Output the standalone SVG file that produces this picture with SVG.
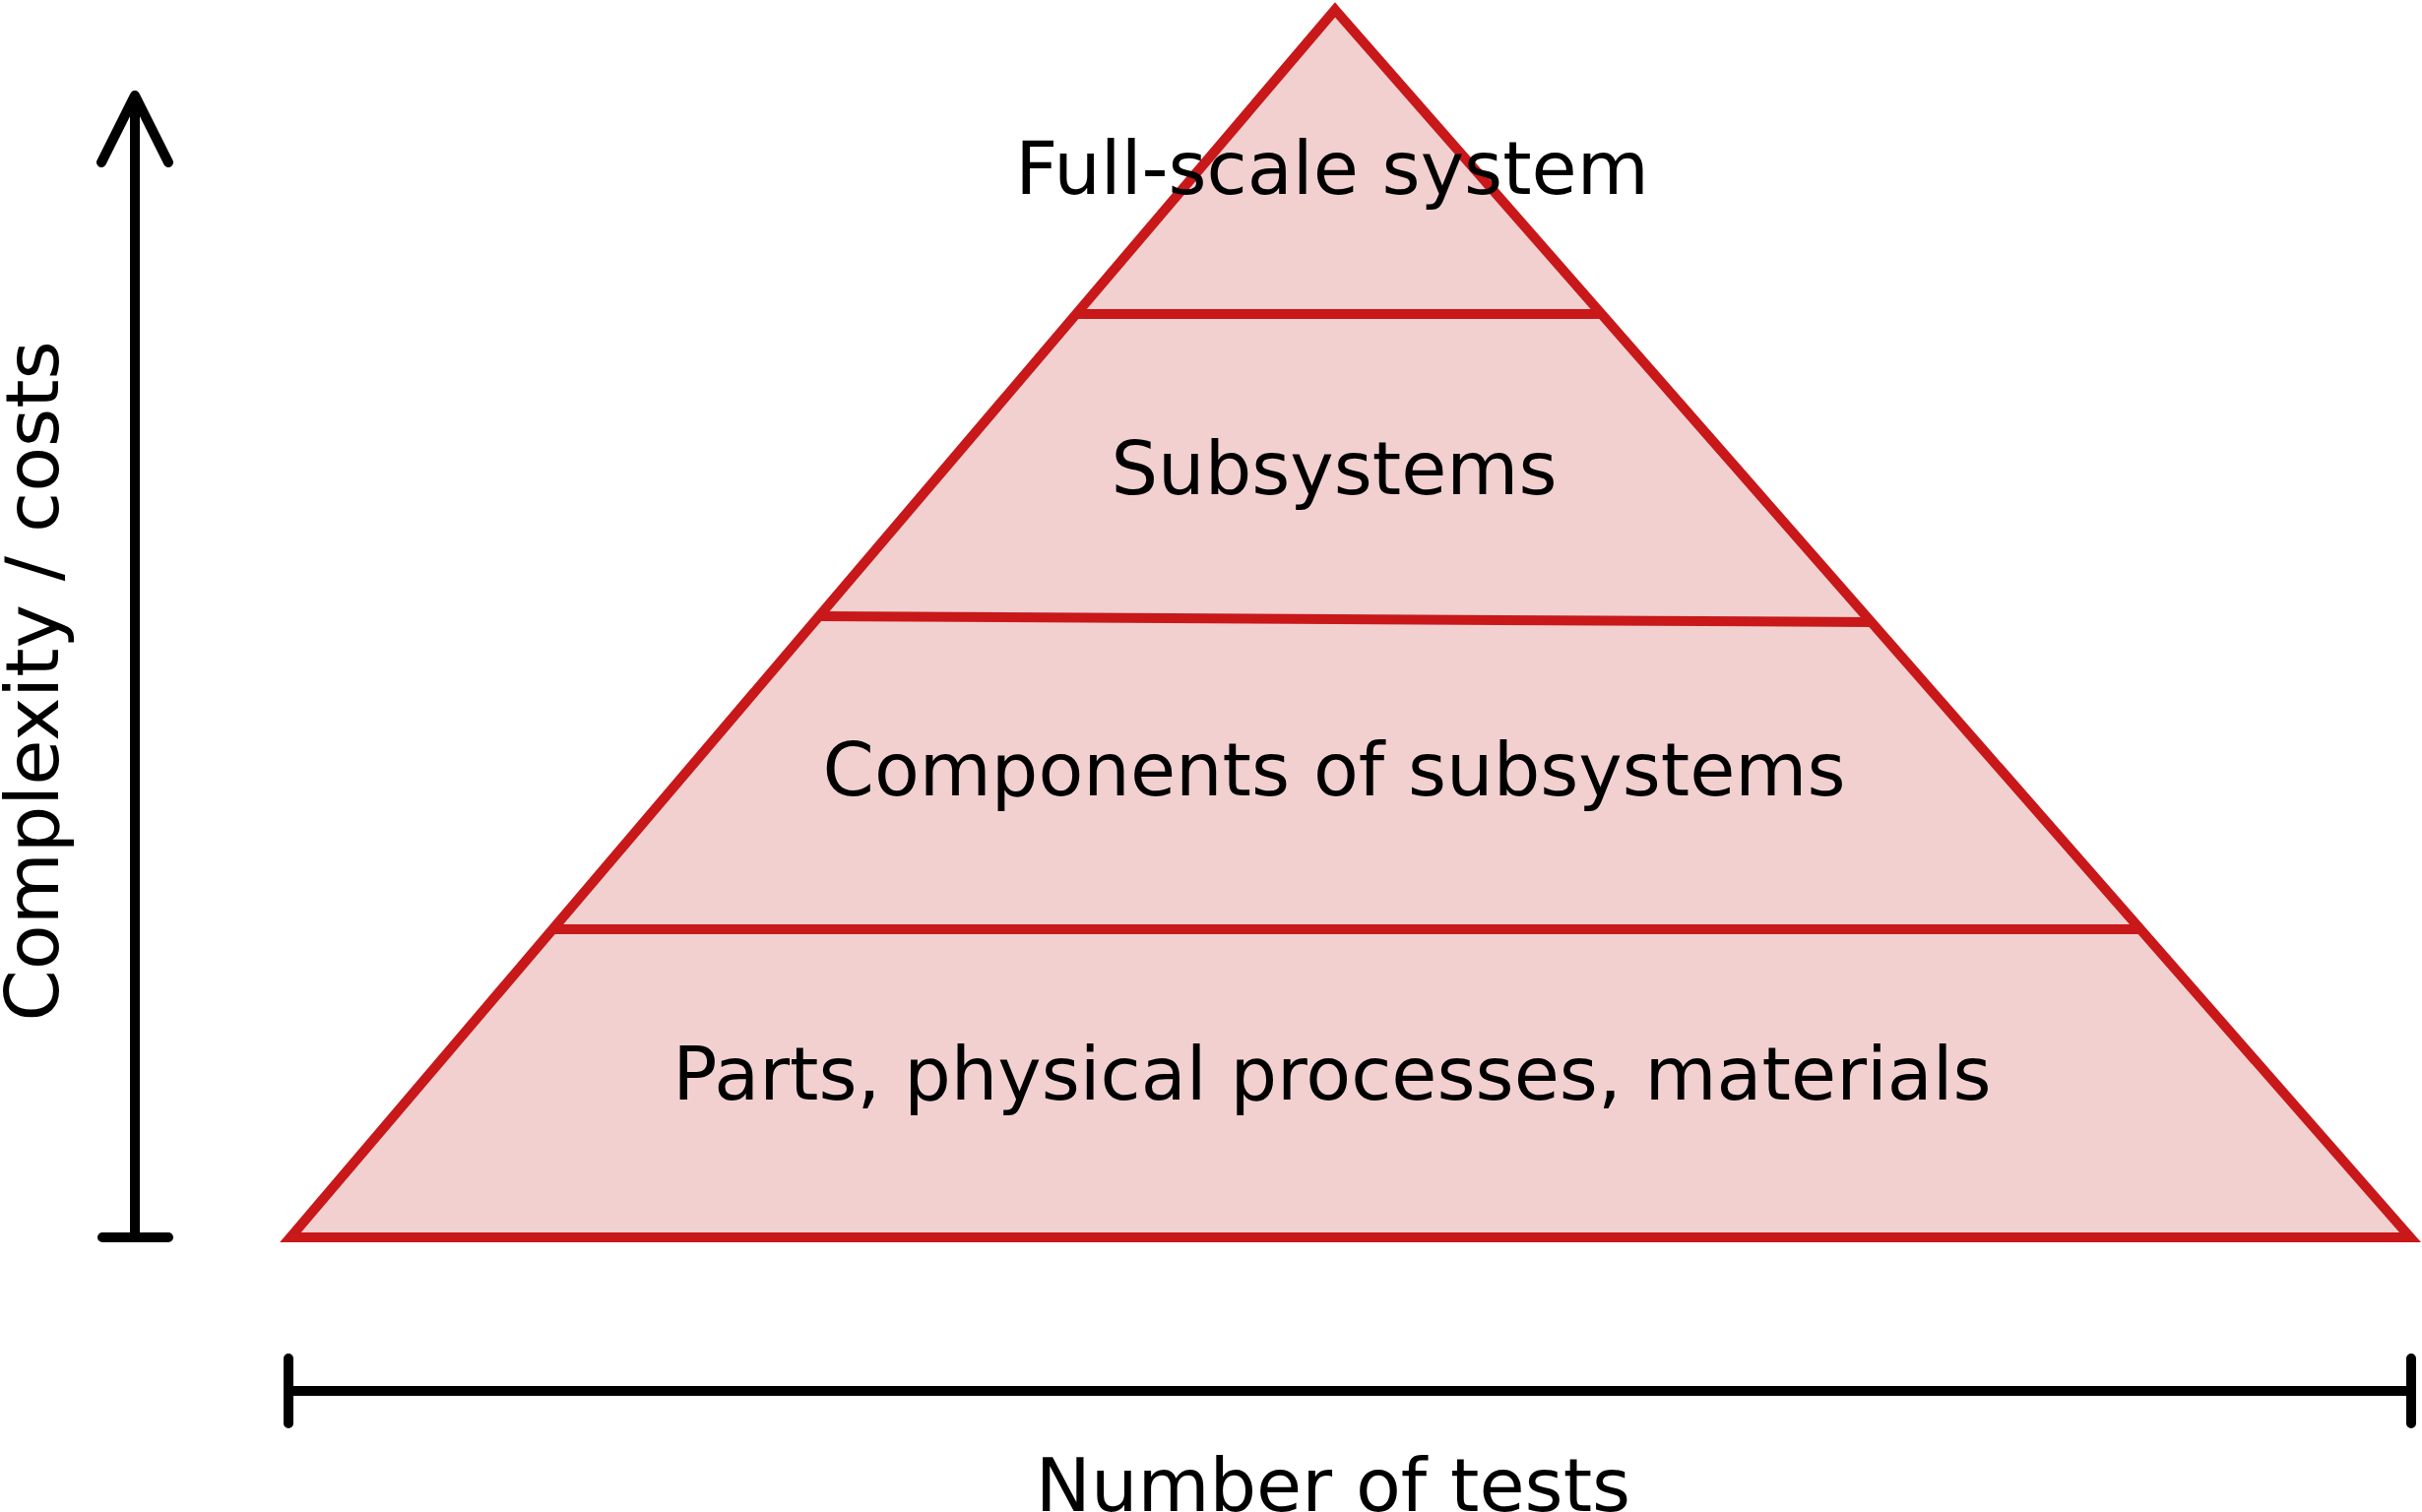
<svg xmlns="http://www.w3.org/2000/svg" width="2460" height="1536" viewBox="0 0 2460 1536">
  <style>
    .lbl { font-family: "DejaVu Sans", Verdana, sans-serif; font-size: 75px; fill: #000; text-anchor: middle; }
    .tier { fill: none; stroke: #c8181a; stroke-width: 10; }
    .axis { fill: none; stroke: #000; stroke-width: 10; stroke-linecap: round; stroke-linejoin: round; }
  </style>
  <rect width="2460" height="1536" fill="#ffffff"/>
  <g id="pyramid">
    <polygon points="1356,10 2448,1257 295,1257" fill="#f2d0d0" stroke="#c8181a" stroke-width="10" stroke-linejoin="miter" stroke-miterlimit="10"/>
  </g>
  <g id="connectors">
    <line class="tier" x1="1093" y1="319" x2="1627" y2="319"/>
    <line class="tier" x1="832" y1="626" x2="1902" y2="632"/>
    <line class="tier" x1="561" y1="944" x2="2174" y2="944"/>
    <path class="axis" d="M137,1257 L137,97 M103,165 L137,97 L171,165 M104,1257 L171,1257"/>
    <path class="axis" d="M293,1413 L2449,1413 M293,1380 L293,1446 M2449,1380 L2449,1446"/>
  </g>
  <g id="tier-full-scale">
    <text class="lbl" x="1353" y="197">Full-scale system</text>
  </g>
  <g id="tier-subsystems">
    <text class="lbl" x="1355" y="502">Subsystems</text>
  </g>
  <g id="tier-components">
    <text class="lbl" x="1355" y="808">Components of subsystems</text>
  </g>
  <g id="tier-parts">
    <text class="lbl" x="1353" y="1117">Parts, physical processes, materials</text>
  </g>
  <g id="axis-y-label">
    <text class="lbl" transform="translate(59,692) rotate(-90)">Complexity / costs</text>
  </g>
  <g id="axis-x-label">
    <text class="lbl" x="1354" y="1535">Number of tests</text>
  </g>
</svg>
